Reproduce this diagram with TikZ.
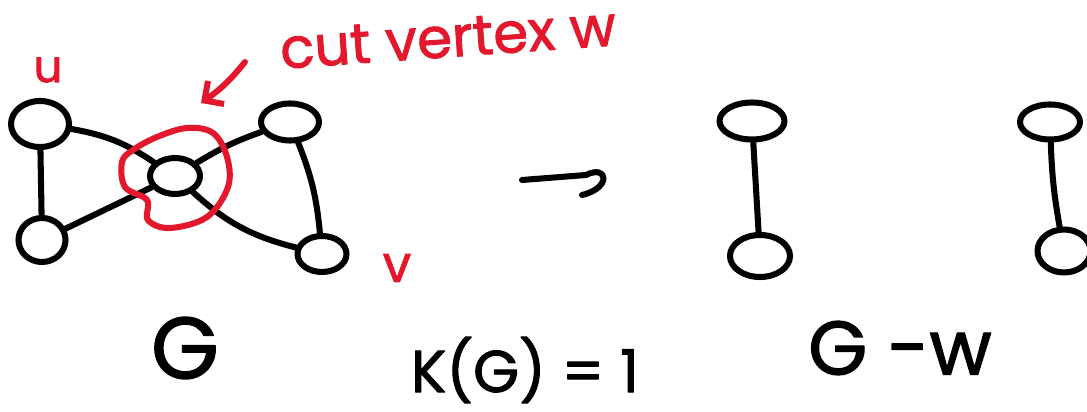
\documentclass[tikz,border=0pt]{standalone}
\usepackage{fontspec}
\newfontfamily\handfont[FakeBold=1.6]{Poppins}
\usetikzlibrary{arrows.meta, positioning, shapes.geometric}
\definecolor{markred}{RGB}{227,24,45}

\begin{document}
\begin{tikzpicture}[
    x=0.025cm, y=-0.025cm,
    line cap=round, line join=round,
    vertex/.style={draw, ellipse, line width=4.3pt, inner sep=0pt},
    graph edge/.style={line width=4.3pt},
    red mark/.style={markred, line width=4.3pt},
    handtext/.style={inner sep=0pt},
  ]
  \useasboundingbox (0,0) rectangle (1087,412);

  %% ---- graph G (left) ----
  \node[vertex, minimum width=1.45cm,  minimum height=1.15cm] (u) at (40,124)  {};
  \node[vertex, minimum width=1.175cm, minimum height=1.1cm]  (x) at (42,240)  {};
  \node[vertex, minimum width=1.25cm,  minimum height=0.9cm]  (w) at (175,176) {};
  \node[vertex, minimum width=1.45cm,  minimum height=0.925cm] (y) at (290,122) {};
  \node[vertex, minimum width=1.225cm, minimum height=0.9cm]  (v) at (322,254) {};

  \draw[graph edge] (u) -- (x);
  \draw[graph edge] (u) to[bend left=12] (w);
  \draw[graph edge] (x) -- (w);
  \draw[graph edge] (w) to[bend left=6] (y);
  \draw[graph edge] (w) to[bend right=14] (v);
  \draw[graph edge] (y) to[bend left=8] (v);

  %% ---- cut vertex marking ----
  \draw[red mark] plot[smooth cycle, tension=0.6] coordinates {
    (187,128) (157,137) (133,150) (122,162) (125,187) (147,200)
    (148,220) (170,228) (207,217) (228,187) (227,157) (213,133)};
  \coordinate (cutS) at (245,62);
  \coordinate (cutE) at (201,103);
  \draw[red mark, -{Straight Barb[length=10pt, width=20pt, line width=4.3pt]}]
    (cutS) to[bend left=8] (cutE);
  \node[handtext, markred, rotate=4, font=\handfont\fontsize{40}{40}\selectfont]
    (cutlbl) at (448,38) {cut vertex w};
  \node[handtext, markred, font=\handfont\fontsize{32}{32}\selectfont]
    (ulbl) at (48,70) {u};
  \node[handtext, markred, font=\handfont\fontsize{36}{36}\selectfont]
    (vlbl) at (397,268) {v};

  %% ---- arrow G -> G-w ----
  \coordinate (arrS) at (522,180);
  \coordinate (arrE) at (586,175);
  \coordinate (arrH) at (582,195);
  \draw[graph edge] (arrS) -- (arrE) .. controls (608,164) and (612,188) .. (arrH);

  %% ---- graph G - w (right) ----
  \node[vertex, minimum width=1.625cm, minimum height=0.925cm] (p1) at (752,121)  {};
  \node[vertex, minimum width=1.5cm,   minimum height=1.05cm]  (p2) at (760,256) {};
  \node[vertex, minimum width=1.5cm,   minimum height=0.875cm] (q1) at (1050,122) {};
  \node[vertex, minimum width=1.325cm, minimum height=1.075cm] (q2) at (1064,251) {};

  \draw[graph edge] (p1) -- (p2);
  \draw[graph edge] (q1) to[bend right=4] (q2);

  %% ---- captions ----
  \node[handtext, font=\handfont\fontsize{62}{62}\selectfont] (capG)  at (185,348) {G};
  \node[handtext, font=\handfont\fontsize{42}{42}\selectfont] (kappa) at (525,370) {K(G) = 1};
  \node[handtext, font=\handfont\fontsize{54}{54}\selectfont] (capGw) at (900,348) {G -w};
\end{tikzpicture}
\end{document}
